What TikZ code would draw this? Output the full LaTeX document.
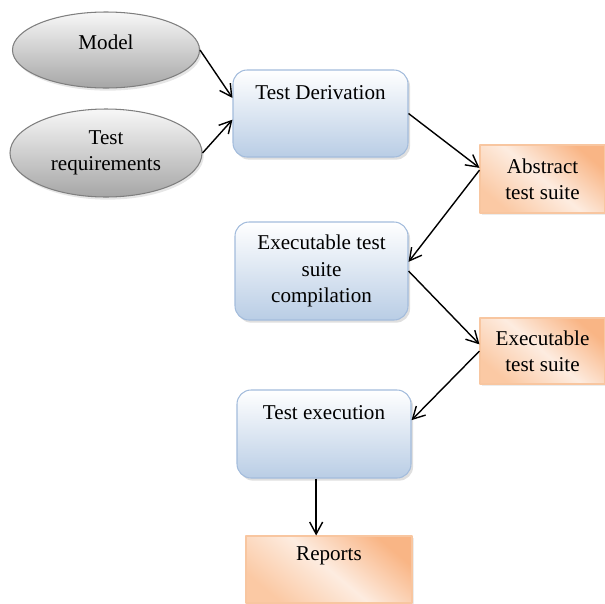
\documentclass[tikz,border=0pt]{standalone}
\usepackage{fontspec}
\setmainfont{Liberation Serif}
\usetikzlibrary{arrows.meta, shapes.geometric, shadows}
\definecolor{ellbottom}{HTML}{A6A6A6}
\definecolor{elledge}{HTML}{7F7F7F}
\definecolor{boxblue}{HTML}{B9CDE5}
\definecolor{boxedge}{HTML}{A3BCDC}
\definecolor{orangedark}{HTML}{F9B585}
\definecolor{orangemid}{HTML}{FBC9A4}
\definecolor{orangelight}{HTML}{FDECE0}
\definecolor{orangeedge}{HTML}{F8C6A0}

\begin{document}
\begin{tikzpicture}[font=\fontsize{12}{15}\selectfont, line join=round,
  input/.style={ellipse, draw=elledge, line width=0.6pt, top color=gray!6, bottom color=ellbottom,
    align=center, drop shadow={opacity=0.2, shadow xshift=1pt, shadow yshift=-1.5pt}},
  process/.style={rectangle, rounded corners=8pt, draw=boxedge, line width=0.6pt, top color=white,
    bottom color=boxblue, align=center, inner sep=0.1cm,
    drop shadow={opacity=0.25, shadow xshift=1.2pt, shadow yshift=-1.5pt}},
  product/.style={rectangle, draw=orangeedge, line width=0.6pt, top color=orangedark,
    bottom color=orangemid, middle color=orangelight, shading angle=-40, align=center, inner sep=0.1cm,
    drop shadow={opacity=0.15, shadow xshift=1pt, shadow yshift=-1.2pt}},
  flow/.style={-{Straight Barb[length=2.4mm,width=2.6mm]}, line width=0.8pt}]
\useasboundingbox (0,0) rectangle (12.1,-12.06);

% inputs
\node[input, minimum width=3.74cm, minimum height=1.52cm, text depth=0.3cm] (model) at (2.12,-1.0) {Model};
\node[input, minimum width=3.84cm, minimum height=1.76cm] (testreq) at (2.12,-3.06) {Test\\requirements};

% steps
\node[process, minimum width=3.5cm, text height=0.48cm, text depth=1.06cm] (derivation) at (6.41,-2.27) {Test Derivation};
\node[process, minimum width=3.46cm, minimum height=1.96cm] (compile) at (6.43,-5.42) {Executable test\\suite\\compilation};
\node[process, minimum width=3.48cm, text height=0.48cm, text depth=1.08cm] (execution) at (6.48,-8.68) {Test execution};

% results
\node[product, minimum width=2.5cm, minimum height=1.36cm] (abstract) at (10.85,-3.58) {Abstract\\test suite};
\node[product, minimum width=2.5cm, minimum height=1.32cm] (exesuite) at (10.85,-7.02) {Executable\\test suite};
\node[product, minimum width=3.32cm, text height=0.38cm, text depth=0.76cm] (reports) at (6.58,-11.39) {Reports};

% connectors
\draw[flow] (model.east) -- (derivation.170);
\draw[flow] (testreq.east) -- (derivation.184);
\draw[flow] (derivation.east) -- (abstract.170);
\draw[flow] (abstract.172) -- (compile.6);
\draw[flow] (compile.east) -- (exesuite.174);
\draw[flow] (exesuite.west) -- (execution.9);
\draw[flow] (execution.260) -- (execution.260 |- reports.north);
\end{tikzpicture}
\end{document}
